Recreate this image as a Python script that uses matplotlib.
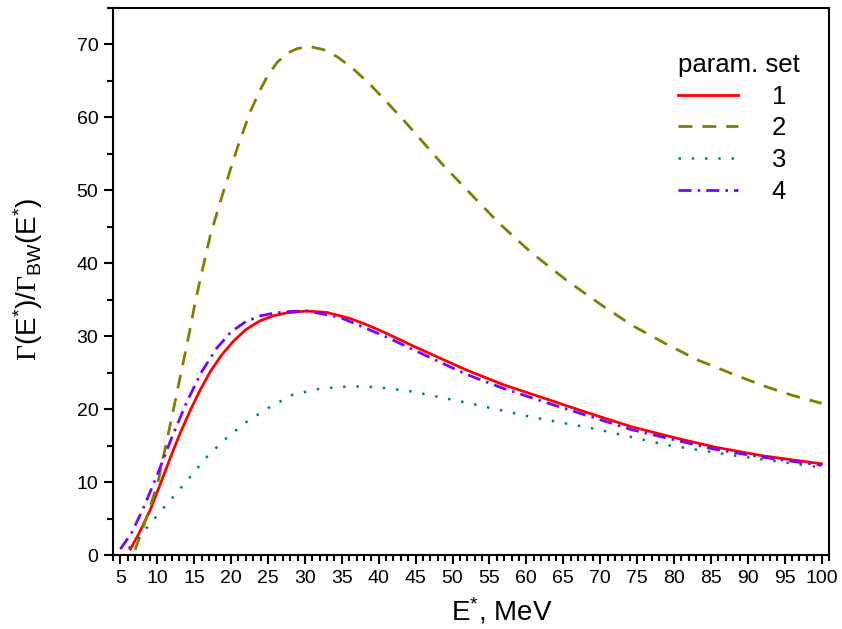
import matplotlib
matplotlib.use("Agg")
import matplotlib.pyplot as plt
from matplotlib.ticker import MultipleLocator

plt.rcParams["font.family"] = ["Liberation Sans", "DejaVu Sans"]
plt.rcParams["mathtext.fontset"] = "custom"
plt.rcParams["mathtext.rm"] = "Liberation Serif"
plt.rcParams["mathtext.sf"] = "Liberation Sans"
plt.rcParams["mathtext.it"] = "Liberation Sans:italic"

# parameter set 1
e_set1 = [6.35, 7.5, 9.05, 10.4, 11.75, 13.1, 14.45, 15.8, 17.15, 18.7, 20.3, 22.0,
          23.9, 25.7, 27.55, 30.25, 33.0, 36.05, 38.3, 40.6, 45.0, 48.5, 51.8,
          57.0, 63.0, 68.0, 74.2, 80.0, 85.5, 92.0, 100.0]
g_set1 = [0.8, 2.9, 6.2, 9.7, 13.3, 16.7, 19.8, 22.6, 25.1, 27.4, 29.3, 30.9,
          32.1, 32.8, 33.2, 33.45, 33.25, 32.45, 31.6, 30.6, 28.5, 26.9, 25.4,
          23.3, 21.3, 19.6, 17.6, 16.1, 14.8, 13.6, 12.5]

# parameter set 2
e_set2 = [7.0, 8.5, 10.1, 12.2, 14.25, 15.2, 16.2, 17.2, 18.95, 20.84, 22.6,
          24.0, 24.9, 26.2, 27.6, 29.0, 30.7, 32.5, 34.4, 36.5, 38.85, 41.0,
          43.3, 46.0, 48.6, 52.0, 56.3, 60.5, 65.4, 70.0, 74.3, 79.0, 83.3,
          88.0, 92.4, 96.0, 100.0]
g_set2 = [0.7, 5.0, 10.0, 20.0, 30.0, 35.0, 39.5, 43.9, 49.8, 55.8, 60.8,
          63.9, 65.6, 67.5, 68.8, 69.45, 69.7, 69.3, 68.3, 66.7, 64.5, 62.2,
          59.7, 56.6, 53.6, 50.0, 45.5, 41.6, 37.7, 34.4, 31.5, 28.9, 26.7,
          24.8, 23.1, 21.9, 20.8]

# parameter set 3
e_set3 = [6.1, 7.4, 9.7, 12.0, 14.45, 16.75, 19.45, 22.15, 25.25, 28.4, 32.0,
          35.8, 37.4, 40.0, 44.6, 51.85, 60.8, 69.8, 78.9, 87.8, 100.0]
g_set3 = [0.9, 2.3, 5.1, 7.8, 10.7, 13.5, 16.1, 18.3, 20.3, 22.0, 22.8,
          23.1, 23.1, 23.0, 22.4, 20.9, 18.9, 17.2, 15.1, 13.7, 12.0]

# parameter set 4
e_set4 = [5.0, 6.5, 8.1, 10.0, 12.0, 14.0, 16.0, 18.0, 20.0, 22.0, 24.0,
          26.0, 28.0, 30.25, 34.7, 40.6, 45.0, 51.8, 57.0, 63.0, 68.0, 74.2,
          80.0, 85.5, 92.0, 100.0]
g_set4 = [0.8, 3.0, 6.4, 11.0, 16.2, 21.0, 25.1, 28.3, 30.6, 32.0, 32.8,
          33.2, 33.4, 33.45, 32.6, 30.1, 28.0, 24.8, 22.8, 20.8, 19.2, 17.2,
          15.8, 14.5, 13.4, 12.3]

set_labels = ["1", "2", "3", "4"]

fig = plt.figure(figsize=(8.42, 6.29), dpi=100)
ax = fig.add_axes([113 / 842, 1 - 555 / 629, 716 / 842, 547 / 629])

l1, = ax.plot(e_set1, g_set1, color="#ff0000", lw=2.0, solid_joinstyle="round")
l2, = ax.plot(e_set2, g_set2, color="#808000", lw=2.0, dashes=(5.0, 3.6))
l3, = ax.plot(e_set3, g_set3, color="#008080", lw=1.8, dashes=(1.0, 4.3))
l4, = ax.plot(e_set4, g_set4, color="#8000ff", lw=2.0, dashes=(4.7, 2.2, 0.9, 2.2))

ax.set_xlim(4, 101)
ax.set_ylim(0, 75)
ax.xaxis.set_major_locator(MultipleLocator(5))
ax.xaxis.set_minor_locator(MultipleLocator(1))
ax.yaxis.set_major_locator(MultipleLocator(10))
ax.yaxis.set_minor_locator(MultipleLocator(5))
ax.tick_params(which="both", direction="out", width=1.5, labelsize=14,
               top=False, right=False)
ax.tick_params(which="major", length=6.5, pad=4)
ax.tick_params(which="minor", length=4)
for sp in ax.spines.values():
    sp.set_linewidth(1.5)

ax.set_xlabel(r"$\mathsf{E^{*}}$, MeV", fontsize=20)
ax.xaxis.set_label_coords(0.543, -0.075)
ax.set_ylabel(r"$\Gamma\mathsf{(E^{*})/}\Gamma_{\mathsf{BW}}\mathsf{(E^{*})}$",
              fontsize=20)
ax.yaxis.set_label_coords(-0.095, 0.505)

leg = ax.legend([l1, l2, l3, l4], set_labels, title="param. set",
                loc="upper left", bbox_to_anchor=(0.789, 0.918),
                frameon=False, fontsize=18.5, title_fontsize=18.5,
                handlelength=2.35, handletextpad=1.3, labelspacing=0.3,
                borderpad=0, borderaxespad=0, alignment="left")

fig.savefig("out.png", dpi=100)
